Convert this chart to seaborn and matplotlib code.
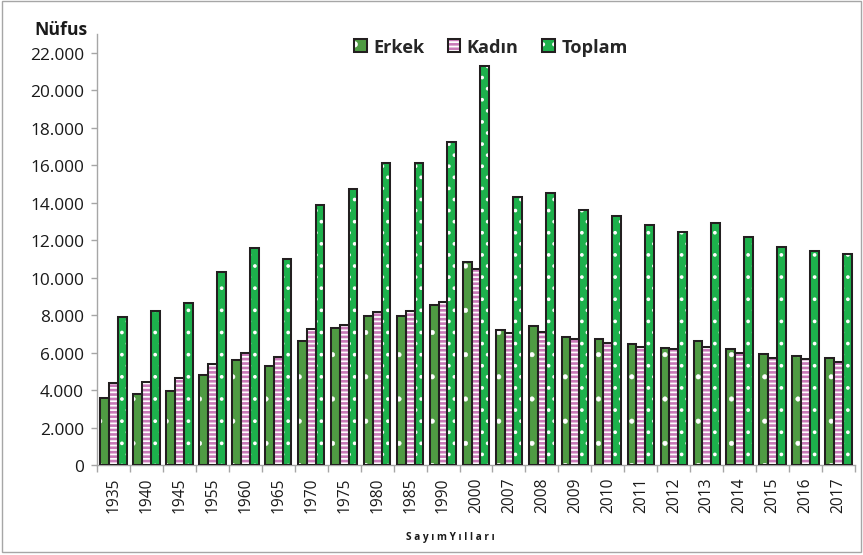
import pandas as pd
import seaborn as sns
import matplotlib.pyplot as plt
from matplotlib.patches import Patch, Rectangle
from matplotlib.legend_handler import HandlerTuple
from matplotlib.ticker import FixedLocator, FuncFormatter

years = ["1935", "1940", "1945", "1955", "1960", "1965", "1970", "1975", "1980", "1985", "1990",
         "2000", "2007", "2008", "2009", "2010", "2011", "2012", "2013", "2014", "2015", "2016", "2017"]
erkek = [3600, 3800, 3950, 4800, 5600, 5300, 6600, 7300, 7950, 7950, 8550,
         10850, 7200, 7420, 6850, 6750, 6450, 6250, 6640, 6180, 5930, 5820, 5730]
kadin = [4400, 4450, 4650, 5400, 6000, 5750, 7250, 7450, 8150, 8200, 8700,
         10450, 7050, 7100, 6750, 6500, 6300, 6200, 6290, 6000, 5710, 5630, 5520]
toplam = [7900, 8220, 8650, 10300, 11600, 11000, 13850, 14750, 16100, 16100, 17250,
          21300, 14300, 14500, 13600, 13300, 12800, 12450, 12900, 12150, 11640, 11430, 11250]
series = ["Erkek", "Kadın", "Toplam"]

n = len(years)
df = pd.DataFrame({
    "Yıl": years * 3,
    "Nüfus": erkek + kadin + toplam,
    "Seri": [s for s in series for _ in range(n)],
})

colors = {"Erkek": "#4f9b43", "Kadın": "#c979b8", "Toplam": "#1db14c"}
hatches = {"Erkek": ".", "Kadın": "-----", "Toplam": ".."}
hatch_lw = {"Erkek": 0.3, "Kadın": 0.95, "Toplam": 0.8}
edge = "#231f20"
grey = "#a6a6a6"

sns.set_style("white")
plt.rcParams["font.family"] = ["Open Sans", "DejaVu Sans"]
plt.rcParams["hatch.linewidth"] = 1.0

# dpi 133.33 so that hatch spacing matches the reference
fig = plt.figure(figsize=(6.48, 4.17), dpi=864 / 6.48)
ax = fig.add_axes([0.1123, 0.1619, 0.8773, 0.7751])

sns.barplot(data=df, x="Yıl", y="Nüfus", hue="Seri", palette=colors, width=0.8, gap=0,
            saturation=1, ax=ax, legend=False)


def style_patch(p, s):
    p.set_hatch(hatches[s])
    p.set_edgecolor("white")
    p.set_linewidth(0)
    if hasattr(p, "set_hatch_linewidth"):
        p.set_hatch_linewidth(hatch_lw[s])


for cont, s in zip(ax.containers, series):
    for bar in cont:
        style_patch(bar, s)
        ax.add_patch(Rectangle((bar.get_x(), bar.get_y()), bar.get_width(), bar.get_height(),
                               fill=False, edgecolor=edge, lw=1.1, zorder=3))

ax.set_ylim(0, 23000)
ax.set_xlim(-0.5, n - 0.5)
ax.yaxis.set_major_locator(FixedLocator(range(0, 22001, 2000)))
ax.yaxis.set_major_formatter(FuncFormatter(lambda v, p: f"{int(v):,}".replace(",", ".")))
ax.xaxis.set_minor_locator(FixedLocator([i - 0.5 for i in range(n + 1)]))
ax.tick_params(axis="x", which="major", length=0, pad=6, labelsize=8.4, rotation=90, labelcolor="#1a1a1a")
ax.tick_params(axis="x", which="minor", length=4, width=0.75, color=grey, bottom=True)
ax.tick_params(axis="y", length=3, width=0.75, color=grey, left=True, pad=4, labelsize=9.3, labelcolor="#1a1a1a")
ax.set_xlabel("")
ax.set_ylabel("")

for side in ["top", "right"]:
    ax.spines[side].set_visible(False)
for side in ["left", "bottom"]:
    ax.spines[side].set_color(grey)
    ax.spines[side].set_linewidth(0.75)

fig.text(0.071, 0.946, "Nüfus", fontsize=9.5, fontweight="bold", ha="center", va="center", color="#1a1a1a")
fig.text(0.521, 0.034, "S a y ı m Y ı l l a r ı", fontsize=5.5, fontweight="bold", ha="center",
         va="center", color="#1a1a1a")

handles = []
for s in series:
    h = Patch(facecolor=colors[s])
    style_patch(h, s)
    handles.append((h, Patch(fill=False, edgecolor=edge, lw=1.1)))
fig.legend(handles, series, loc="center", bbox_to_anchor=(0.568, 0.914), ncol=3, frameon=False,
           handler_map={tuple: HandlerTuple(ndivide=1)}, handlelength=0.7, handleheight=0.7,
           handletextpad=0.35, columnspacing=1.3, prop={"size": 9.8, "weight": "bold"})

fig.patches.append(Rectangle((0.002, 0.006), 0.995, 0.99, transform=fig.transFigure,
                             fill=False, edgecolor=grey, lw=0.75))

fig.savefig("out.png", dpi=fig.dpi)
